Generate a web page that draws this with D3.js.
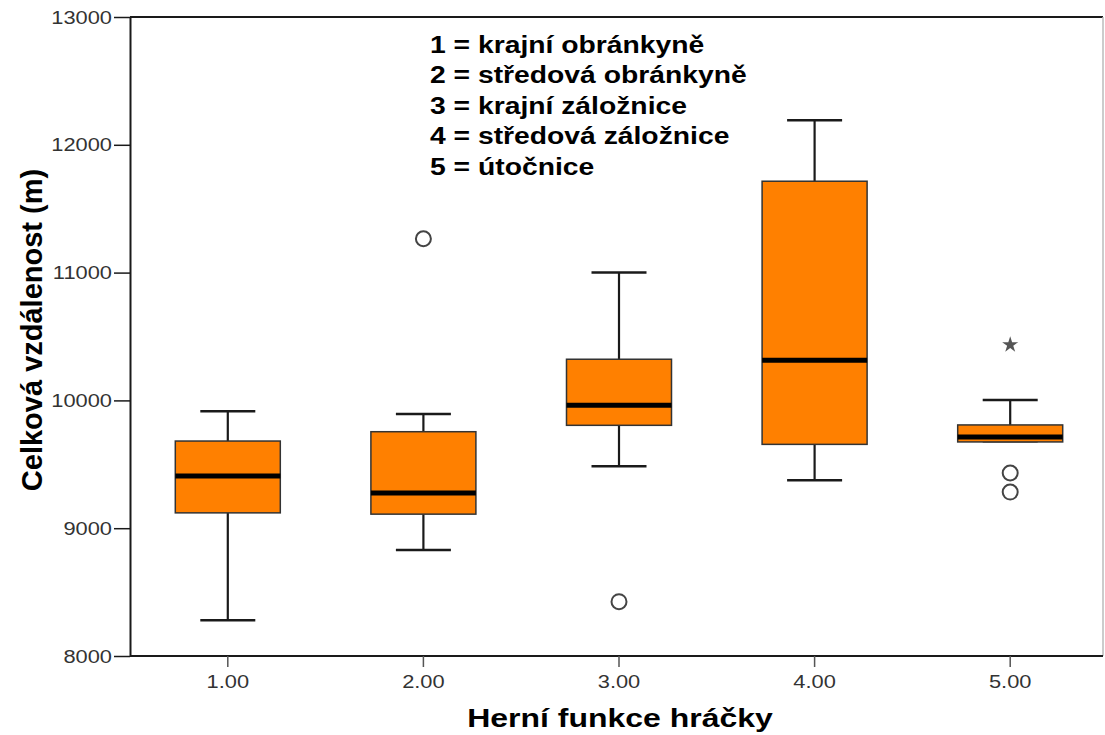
<!DOCTYPE html>
<html>
<head>
<meta charset="utf-8">
<script src="https://cdn.jsdelivr.net/npm/d3@7"></script>
<style>
  body { margin: 0; background: #fff; }
  text { font-family: Arial, "Liberation Sans", sans-serif; }
</style>
</head>
<body>
<div id="viz"></div>
<script>
// categories and box statistics
const groups = ["1.00", "2.00", "3.00", "4.00", "5.00"];
const lowWhisker = [8280, 8830, 9485, 9375, 9680];
const q1 = [9120, 9110, 9805, 9656, 9675];
const median = [9408, 9275, 9962, 10315, 9714];
const q3 = [9682, 9755, 10322, 11715, 9808];
const highWhisker = [9915, 9893, 11000, 12192, 10003];
const outliers = [[], [11265], [8425], [], [9432, 9283]];
const extremes = [[], [], [], [], [10435]];
const yTicks = [8000, 9000, 10000, 11000, 12000, 13000];
const legendLines = [
  "1 = krajní obránkyně",
  "2 = středová obránkyně",
  "3 = krajní záložnice",
  "4 = středová záložnice",
  "5 = útočnice"
];

const width = 1105, height = 735;
const svg = d3.select("#viz").append("svg")
  .attr("width", width)
  .attr("height", height);

const x = d3.scaleBand().domain(groups).range([130, 1108]);
const y = d3.scaleLinear().domain([8000, 13000]).range([656, 17]);

const boxes = groups.map((g, i) => ({
  g, lo: lowWhisker[i], q1: q1[i], med: median[i], q3: q3[i], hi: highWhisker[i],
  out: outliers[i], ext: extremes[i]
}));

const boxW = 105, capW = 55;
const ink = "#1a1a1a";
const stretch = 1.23; // the reference glyphs are wide

// frame
svg.append("line").attr("x1", 130).attr("x2", 1103).attr("y1", 17).attr("y2", 17)
  .attr("stroke", ink).attr("stroke-width", 2);
svg.append("line").attr("x1", 1103).attr("x2", 1103).attr("y1", 17).attr("y2", 656)
  .attr("stroke", "#bbb").attr("stroke-width", 1.5);

// y axis
const yAxis = svg.append("g")
  .attr("transform", "translate(130,0)")
  .call(d3.axisLeft(y).tickValues(yTicks).tickFormat(d3.format("d"))
    .tickSize(16).tickPadding(2).tickSizeOuter(0));
yAxis.select(".domain").attr("stroke", ink).attr("stroke-width", 2);
yAxis.selectAll(".tick line").attr("stroke", ink).attr("stroke-width", 1.5);
yAxis.selectAll(".tick text")
  .attr("font-size", 19).attr("fill", "#333")
  .attr("transform", "translate(-18,0) scale(1.15,1)").attr("x", 0);

// x axis
const xAxis = svg.append("g")
  .attr("transform", "translate(0,656)")
  .call(d3.axisBottom(x).tickSize(11).tickPadding(8).tickSizeOuter(0));
xAxis.select(".domain").attr("d", "M130,0H1103").attr("stroke", ink).attr("stroke-width", 2);
xAxis.selectAll(".tick line").attr("stroke", "#555").attr("stroke-width", 1.5);
xAxis.selectAll(".tick text")
  .attr("font-size", 19).attr("fill", "#333")
  .attr("transform", "scale(1.15,1)");

// boxes
const gBox = svg.append("g").selectAll("g").data(boxes).join("g")
  .attr("transform", d => `translate(${x(d.g) + x.bandwidth() / 2},0)`);

gBox.append("line")
  .attr("y1", d => y(d.hi)).attr("y2", d => y(d.q3))
  .attr("stroke", ink).attr("stroke-width", 2.2);
gBox.append("line")
  .attr("y1", d => y(d.q1)).attr("y2", d => y(d.lo))
  .attr("stroke", ink).attr("stroke-width", 2.2);
gBox.append("line")
  .attr("x1", -capW / 2).attr("x2", capW / 2)
  .attr("y1", d => y(d.hi)).attr("y2", d => y(d.hi))
  .attr("stroke", ink).attr("stroke-width", 2.5);
gBox.append("line")
  .attr("x1", -capW / 2).attr("x2", capW / 2)
  .attr("y1", d => y(d.lo)).attr("y2", d => y(d.lo))
  .attr("stroke", ink).attr("stroke-width", 2.5);
gBox.append("rect")
  .attr("x", -boxW / 2).attr("width", boxW)
  .attr("y", d => y(d.q3)).attr("height", d => y(d.q1) - y(d.q3))
  .attr("fill", "#ff8000").attr("stroke", "#333").attr("stroke-width", 1.5);
gBox.append("line")
  .attr("x1", -boxW / 2).attr("x2", boxW / 2)
  .attr("y1", d => y(d.med)).attr("y2", d => y(d.med))
  .attr("stroke", "#000").attr("stroke-width", 5);

gBox.selectAll("circle").data(d => d.out).join("circle")
  .attr("cy", v => y(v)).attr("r", 7.5)
  .attr("fill", "#fff").attr("stroke", "#444").attr("stroke-width", 2);

gBox.selectAll("path.ext").data(d => d.ext).join("path")
  .attr("class", "ext")
  .attr("transform", v => `translate(0,${y(v)})`)
  .attr("d", d3.symbol(d3.symbolStar, 80))
  .attr("fill", "#555");

// legend text
svg.append("g")
  .attr("transform", `translate(430,0) scale(${stretch},1)`)
  .selectAll("text").data(legendLines).join("text")
  .attr("x", 0).attr("y", (d, i) => 53 + i * 30.5)
  .attr("font-size", 23).attr("font-weight", "bold").attr("fill", "#000")
  .text(d => d);

// axis titles
svg.append("text")
  .attr("transform", `translate(620,727) scale(${stretch},1)`)
  .attr("text-anchor", "middle")
  .attr("font-size", 26).attr("font-weight", "bold")
  .text("Herní funkce hráčky");

svg.append("text")
  .attr("transform", "translate(42,330) rotate(-90)")
  .attr("text-anchor", "middle")
  .attr("font-size", 29).attr("font-weight", "bold")
  .text("Celková vzdálenost (m)");
</script>
</body>
</html>
